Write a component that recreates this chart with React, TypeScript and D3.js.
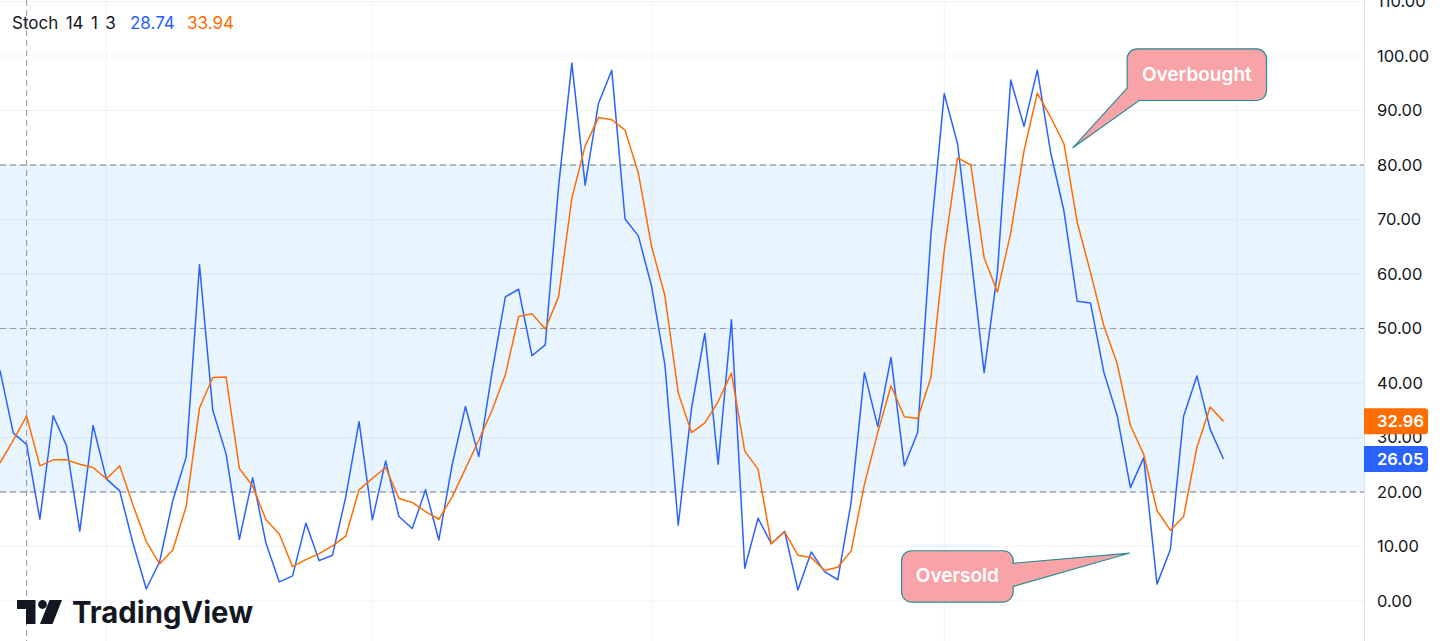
import { useEffect, useRef } from "react";
import * as d3 from "d3";

// %K (blue) and %D (orange), one value per bar
const K_VALUES = [
  42.3, 30.8, 28.74, 15.0, 34.0, 28.5, 12.8, 32.2, 22.4, 20.2,
  10.6, 2.2, 7.2, 18.5, 26.4, 61.7, 35.0, 27.0, 11.3, 22.6,
  10.6, 3.5, 4.6, 14.3, 7.4, 8.4, 19.1, 32.9, 14.9, 25.7,
  15.5, 13.3, 20.4, 11.2, 25.0, 35.7, 26.5, 42.0, 55.8, 57.2,
  45.0, 47.0, 76.0, 98.7, 76.3, 91.3, 97.4, 70.1, 67.0, 57.7,
  43.3, 13.9, 35.4, 49.1, 25.1, 51.6, 6.0, 15.2, 10.5, 12.8,
  2.0, 9.0, 5.4, 3.9, 18.1, 41.9, 32.0, 44.7, 24.8, 30.9,
  67.2, 93.1, 83.9, 63.6, 41.9, 60.3, 95.6, 87.1, 97.4, 82.3,
  71.6, 55.0, 54.7, 42.0, 34.1, 20.8, 26.3, 3.1, 9.4, 33.9,
  41.3, 31.5, 26.05,
];

const D_VALUES = [
  25.3, 29.5, 33.94, 24.8, 25.9, 25.9, 25.1, 24.5, 22.4, 24.8,
  17.6, 10.9, 6.8, 9.4, 17.4, 35.4, 41.0, 41.1, 24.3, 21.1,
  14.9, 12.3, 6.3, 7.6, 8.7, 10.1, 11.9, 20.4, 22.5, 24.5,
  18.8, 18.1, 16.4, 15.0, 19.1, 24.3, 29.5, 35.0, 41.5, 52.2,
  52.7, 49.9, 55.8, 73.9, 83.5, 88.7, 88.3, 86.4, 78.5, 65.0,
  56.0, 38.2, 30.9, 32.7, 36.6, 41.8, 27.5, 24.2, 10.5, 12.7,
  8.4, 8.0, 5.6, 6.2, 9.2, 21.4, 30.9, 39.5, 33.8, 33.5,
  41.0, 64.3, 81.3, 80.0, 63.0, 56.7, 67.5, 82.6, 93.2, 88.8,
  83.9, 69.5, 60.3, 50.5, 43.6, 32.2, 26.9, 16.6, 13.0, 15.5,
  28.2, 35.6, 32.96,
];

const Y_TICKS = [0, 10, 20, 30, 40, 50, 60, 70, 80, 90, 100, 110];
const TIME_GRID_BARS = [8, 28, 49, 71, 93];
const LEVELS = [20, 50, 80];
const BAND = [20, 80];
const CROSSHAIR_BAR = 2;

// callout tips in (bar, value)
const CALLOUT_LABELS = ["Overbought", "Oversold"];
const CALLOUT_TIPS: [number, number][] = [[80.65, 83.1], [84.96, 8.8]];

const W = 1447, H = 641;
const PLOT_R = 1364;
const BLUE = "#2962FF", ORANGE = "#FF6D00", INK = "#131722";
const FONT = "Inter, 'Noto Sans', sans-serif";

const x = d3.scaleLinear().domain([0, K_VALUES.length - 1]).range([0, 1223.5]);
const y = d3.scaleLinear().domain([0, 100]).range([601, 56]);

const line = d3.line<number>().x((_, i) => x(i)).y((d) => y(d));

function overboughtPath(tx: number, ty: number) {
  const L = tx + 54.6, T = ty - 99.3, R = L + 139.4, B = T + 51.7, r = 10;
  return `M${L + r},${T} H${R - r} A${r},${r} 0 0 1 ${R},${T + r} V${B - r} A${r},${r} 0 0 1 ${R - r},${B}
    H${L + 12} L${tx},${ty} L${L},${T + 39.3} V${T + r} A${r},${r} 0 0 1 ${L + r},${T} Z`;
}

function oversoldPath(tx: number, ty: number) {
  const L = tx - 228.3, T = ty - 2.3, R = L + 111.6, B = T + 51.3, r = 10;
  return `M${L + r},${T} H${R - r} A${r},${r} 0 0 1 ${R},${T + r} V${T + 12.5} L${tx},${ty} L${R},${T + 35.7}
    V${B - r} A${r},${r} 0 0 1 ${R - r},${B} H${L + r} A${r},${r} 0 0 1 ${L},${B - r} V${T + r} A${r},${r} 0 0 1 ${L + r},${T} Z`;
}

function priceTag(cy: number) {
  const L = PLOT_R, R = 1428, T = cy - 13, B = cy + 13, r = 3;
  return `M${L},${T} H${R - r} A${r},${r} 0 0 1 ${R},${T + r} V${B - r} A${r},${r} 0 0 1 ${R - r},${B} H${L} Z`;
}

export default function App() {
  const axisRef = useRef<SVGGElement>(null);

  useEffect(() => {
    if (!axisRef.current) return;
    const g = d3.select(axisRef.current);
    g.selectAll("*").remove();
    g.call(
      d3.axisRight(y).tickValues(Y_TICKS).tickFormat(d3.format(".2f")).tickSize(0).tickPadding(13)
    );
    g.select(".domain").remove();
    g.selectAll("text").attr("fill", INK).attr("font-size", "16.5px").attr("font-family", FONT);
  }, []);

  const lastK = K_VALUES[K_VALUES.length - 1];
  const lastD = D_VALUES[D_VALUES.length - 1];
  const [obTip, osTip] = CALLOUT_TIPS.map(([b, v]) => [x(b), y(v)]);

  return (
    <svg width={W} height={H} style={{ position: "absolute", left: 0, top: 0, background: "#fff" }}
      fontFamily={FONT}>
      {/* grid */}
      {Y_TICKS.map((t) => (
        <line key={t} x1={0} x2={PLOT_R} y1={y(t)} y2={y(t)} stroke="#F0F3FA" />
      ))}
      {TIME_GRID_BARS.map((b) => (
        <line key={b} x1={x(b)} x2={x(b)} y1={0} y2={H} stroke="#F0F3FA" />
      ))}

      {/* 20-80 band */}
      <rect x={0} width={PLOT_R} y={y(BAND[1])} height={y(BAND[0]) - y(BAND[1])}
        fill="rgba(33,150,243,0.1)" />
      {LEVELS.map((l) => (
        <line key={l} x1={0} x2={PLOT_R} y1={y(l)} y2={y(l)} stroke="#787B86"
          strokeDasharray="6 4" strokeOpacity={l === 50 ? 0.7 : 1} />
      ))}

      {/* crosshair */}
      <line x1={x(CROSSHAIR_BAR)} x2={x(CROSSHAIR_BAR)} y1={0} y2={H} stroke="#9598A1"
        strokeDasharray="6 4" />

      {/* series */}
      <path d={line(K_VALUES) ?? ""} fill="none" stroke={BLUE} strokeWidth={1.5} strokeLinejoin="round" />
      <path d={line(D_VALUES) ?? ""} fill="none" stroke={ORANGE} strokeWidth={1.5} strokeLinejoin="round" />

      {/* callouts */}
      <path d={overboughtPath(obTip[0], obTip[1])} fill="#F7A3A7" stroke="#2B8C92" strokeWidth={1.2} />
      <text x={obTip[0] + 54.6 + 69.7} y={obTip[1] - 99.3 + 31.7} textAnchor="middle" fill="#fff"
        fontSize={19} fontWeight={600}>{CALLOUT_LABELS[0]}</text>
      <path d={oversoldPath(osTip[0], osTip[1])} fill="#F7A3A7" stroke="#2B8C92" strokeWidth={1.2} />
      <text x={osTip[0] - 228.3 + 55.8} y={osTip[1] - 2.3 + 31.7} textAnchor="middle" fill="#fff"
        fontSize={19} fontWeight={600}>{CALLOUT_LABELS[1]}</text>

      {/* logo */}
      <g fill={INK}>
        <path d="M17,600 H35.5 V624 H26 V609 H17 Z" />
        <circle cx={42.5} cy={604.5} r={4.4} />
        <path d="M49.5,600 H62 L52.5,624 H40 Z" />
        <text x={72} y={623} fontSize={30} fontWeight={700} textLength={181}
          lengthAdjust="spacingAndGlyphs">TradingView</text>
      </g>

      {/* price axis */}
      <line x1={PLOT_R + 0.5} x2={PLOT_R + 0.5} y1={0} y2={H} stroke="#E0E3EB" />
      <g ref={axisRef} transform={`translate(${PLOT_R},0)`} />
      <path d={priceTag(y(lastD))} fill={ORANGE} />
      <text x={1377} y={y(lastD)} dy="0.35em" fill="#fff" fontSize={16.5} fontWeight={600}>
        {lastD.toFixed(2)}
      </text>
      <path d={priceTag(y(lastK))} fill={BLUE} />
      <text x={1377} y={y(lastK)} dy="0.35em" fill="#fff" fontSize={16.5} fontWeight={600}>
        {lastK.toFixed(2)}
      </text>

      {/* legend */}
      <text y={29} fontSize={17} fill={INK}>
        <tspan x={12} wordSpacing={2.6}>Stoch 14 1 3</tspan>
        <tspan x={130} fill={BLUE}>{K_VALUES[CROSSHAIR_BAR].toFixed(2)}</tspan>
        <tspan x={187} fill={ORANGE}>{D_VALUES[CROSSHAIR_BAR].toFixed(2)}</tspan>
      </text>
    </svg>
  );
}
